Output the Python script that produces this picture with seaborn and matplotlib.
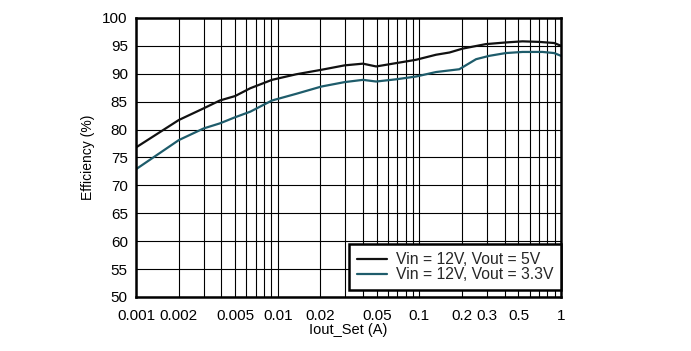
import matplotlib
matplotlib.use("Agg")
import matplotlib.pyplot as plt
import seaborn as sns
import pandas as pd
from matplotlib.ticker import FixedLocator, LogLocator, NullFormatter

sns.set_theme(style="white")
plt.rcParams['font.family'] = ['Liberation Sans', 'DejaVu Sans']

iout_5v = [0.001, 0.002, 0.003, 0.0039, 0.005, 0.0064, 0.0091, 0.0135, 0.0203, 0.0297,
           0.0399, 0.0495, 0.0685, 0.0948, 0.131, 0.163, 0.202, 0.294, 0.407, 0.534,
           0.70, 0.893, 1.0]
eff_5v = [76.8, 81.7, 83.8, 85.2, 86.0, 87.4, 88.9, 89.9, 90.7, 91.5,
          91.8, 91.3, 91.9, 92.5, 93.4, 93.8, 94.5, 95.3, 95.6, 95.8,
          95.7, 95.5, 95.0]
iout_3v3 = [0.001, 0.002, 0.003, 0.0039, 0.005, 0.0064, 0.0079, 0.0091, 0.0135, 0.0203,
            0.0297, 0.0399, 0.0495, 0.0685, 0.0948, 0.131, 0.191, 0.251, 0.311, 0.407,
            0.534, 0.74, 0.893, 1.0]
eff_3v3 = [72.9, 78.1, 80.2, 81.1, 82.2, 83.2, 84.4, 85.2, 86.4, 87.7,
           88.5, 88.9, 88.6, 89.0, 89.5, 90.3, 90.8, 92.6, 93.2, 93.7,
           93.9, 93.9, 93.7, 93.2]
labels = ["Vin = 12V, Vout = 5V", "Vin = 12V, Vout = 3.3V"]
x_ticks = [0.001, 0.002, 0.005, 0.01, 0.02, 0.05, 0.1, 0.2, 0.3, 0.5, 1]
x_tick_labels = ["0.001", "0.002", "0.005", "0.01", "0.02", "0.05", "0.1", "0.2", "0.3", "0.5", "1"]
y_ticks = list(range(50, 101, 5))

df = pd.concat([
    pd.DataFrame({"Iout": iout_5v, "Eff": eff_5v, "Series": labels[0]}),
    pd.DataFrame({"Iout": iout_3v3, "Eff": eff_3v3, "Series": labels[1]}),
])

fig = plt.figure(figsize=(6.91, 3.51), dpi=100)
ax = fig.add_axes([0.197, 0.154, 0.615, 0.795])
sns.lineplot(data=df, x="Iout", y="Eff", hue="Series", hue_order=labels,
             palette=["#111111", "#1e5c6b"], linewidth=1.6, ax=ax, sort=False)
ax.set_xscale("log")
ax.set_xlim(0.001, 1)
ax.set_ylim(50, 100)
ax.xaxis.set_major_locator(FixedLocator(x_ticks))
ax.set_xticklabels(x_tick_labels)
ax.xaxis.set_minor_locator(LogLocator(base=10, subs=range(1, 10), numticks=20))
ax.xaxis.set_minor_formatter(NullFormatter())
ax.set_yticks(y_ticks)
ax.grid(True, which="both", axis="x", color="black", linewidth=0.8)
ax.grid(True, which="major", axis="y", color="black", linewidth=0.8)
ax.tick_params(axis="both", which="both", labelsize=11, colors="black", length=0)
ax.tick_params(axis="x", pad=9)
ax.tick_params(axis="y", pad=6)
for s in ax.spines.values():
    s.set_color("black")
    s.set_linewidth(1.8)
ax.set_xlabel("Iout_Set (A)", fontsize=10.5, color="black", labelpad=0)
ax.set_ylabel("Efficiency (%)", fontsize=10, color="black", labelpad=5)
leg = ax.legend(loc="lower right", bbox_to_anchor=(1.0, 0.025), fontsize=11.3,
                frameon=True, fancybox=False, borderaxespad=0.0,
                handlelength=1.9, handletextpad=0.55, labelspacing=0.0,
                borderpad=0.5)
leg.get_frame().set_edgecolor("black")
leg.get_frame().set_linewidth(1.8)
leg.get_frame().set_alpha(1)
fig.savefig("out.png", dpi=100)
